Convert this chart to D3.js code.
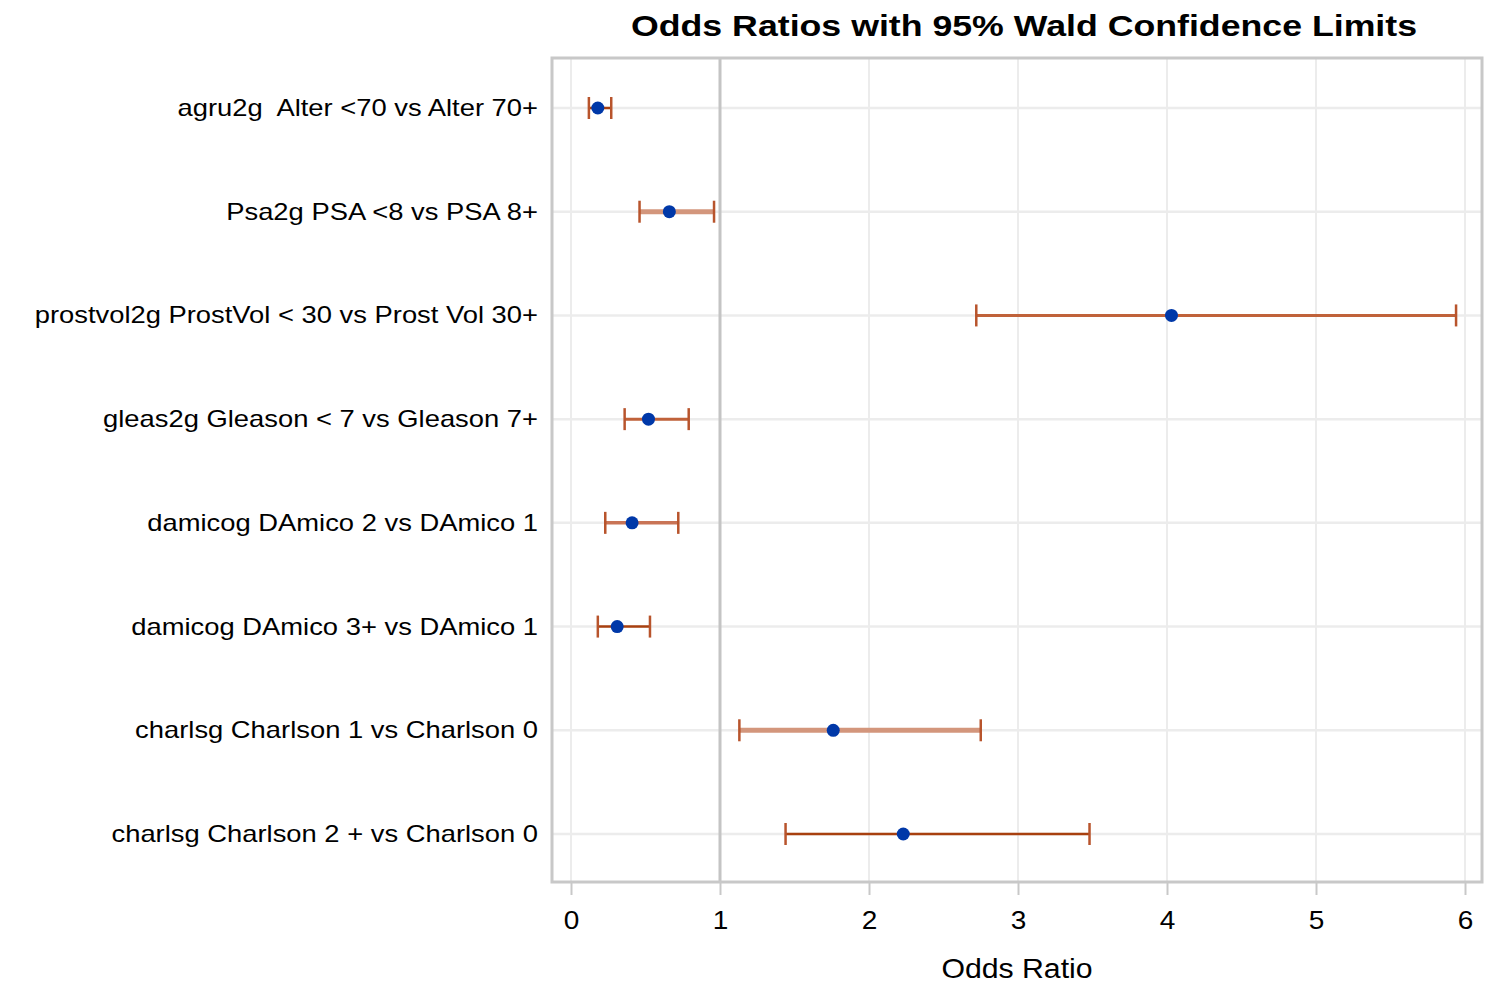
<!DOCTYPE html>
<html>
<head>
<meta charset="utf-8">
<script src="https://d3js.org/d3.v7.min.js"></script>
<style>
  body { margin: 0; background: #fff; }
  text { font-family: "Liberation Sans", Arial, sans-serif; }
</style>
</head>
<body>
<div id="chart"></div>
<script>
// effects, top to bottom
var effects = [
    "agru2g  Alter <70 vs Alter 70+",
    "Psa2g PSA <8 vs PSA 8+",
    "prostvol2g ProstVol < 30 vs Prost Vol 30+",
    "gleas2g Gleason < 7 vs Gleason 7+",
    "damicog DAmico 2 vs DAmico 1",
    "damicog DAmico 3+ vs DAmico 1",
    "charlsg Charlson 1 vs Charlson 0",
    "charlsg Charlson 2 + vs Charlson 0"
];
var oddsRatio = [0.18, 0.66, 4.03, 0.52, 0.41, 0.31, 1.76, 2.23];
var lowerCL   = [0.12, 0.46, 2.72, 0.36, 0.23, 0.18, 1.13, 1.44];
var upperCL   = [0.27, 0.96, 5.94, 0.79, 0.72, 0.53, 2.75, 3.48];
var xTicks = [0, 1, 2, 3, 4, 5, 6];

var width = 1500, height = 992;
var pLeft = 552, pRight = 1482, pTop = 58, pBottom = 882;

var svg = d3.select("#chart").append("svg")
    .attr("width", width).attr("height", height);

var x = d3.scaleLinear().domain([0, 6]).range([571, 1465]);
var y = d3.scalePoint().domain(effects).range([108, 834]);

// text in the picture is wider than plain Arial, so stretch it a bit
function label(g, tx, ty, size, anchor, str, bold, stretch) {
    var t = g.append("text")
        .attr("transform", "translate(" + tx + "," + ty + ") scale(" + (stretch || 1.19) + ",1)")
        .attr("text-anchor", anchor)
        .attr("font-size", size)
        .attr("fill", "#000")
        .style("white-space", "pre")
        .text(str);
    if (bold) t.attr("font-weight", "bold");
    return t;
}

// grid
svg.append("g").selectAll("line")
    .data(xTicks)
    .join("line")
    .attr("x1", d => x(d)).attr("x2", d => x(d))
    .attr("y1", pTop).attr("y2", pBottom)
    .attr("stroke", "#ececec").attr("stroke-width", 2);

svg.append("g").selectAll("line")
    .data(effects)
    .join("line")
    .attr("x1", pLeft).attr("x2", pRight)
    .attr("y1", d => y(d)).attr("y2", d => y(d))
    .attr("stroke", "#ececec").attr("stroke-width", 2.5);

// reference line at 1
svg.append("line")
    .attr("x1", x(1)).attr("x2", x(1))
    .attr("y1", pTop).attr("y2", pBottom)
    .attr("stroke", "#c4c4c4").attr("stroke-width", 3);

// frame
svg.append("rect")
    .attr("x", pLeft).attr("y", pTop)
    .attr("width", pRight - pLeft).attr("height", pBottom - pTop)
    .attr("fill", "none")
    .attr("stroke", "#c8c8c8").attr("stroke-width", 3);

// x axis ticks + labels
var xAxis = d3.axisBottom(x).tickValues(xTicks).tickSize(12).tickFormat("");
var gx = svg.append("g")
    .attr("transform", "translate(0," + (pBottom + 1) + ")")
    .call(xAxis);
gx.select(".domain").remove();
gx.selectAll(".tick line").attr("stroke", "#c8c8c8").attr("stroke-width", 2);
gx.selectAll(".tick").each(function (d) {
    label(d3.select(this), 0, 46, 25, "middle", String(d), false, 1.12);
});

label(svg, (pLeft + pRight) / 2, 978, 27.5, "middle", "Odds Ratio", false, 1.1);

// y labels
var gy = svg.append("g");
effects.forEach(function (e) {
    label(gy, 538, y(e) + 8, 23, "end", e);
});

// title
label(svg, 1024, 36, 30, "middle", "Odds Ratios with 95% Wald Confidence Limits", true);

// error bars
var barStyle = [
    {w: 2.5, c: "#a8400f"},
    {w: 5, c: "#d3967c"},
    {w: 3, c: "#c0623a"},
    {w: 3, c: "#c0623a"},
    {w: 3.5, c: "#c97456"},
    {w: 2.5, c: "#a8400f"},
    {w: 5, c: "#d3967c"},
    {w: 2.5, c: "#a8400f"}
];

var bars = svg.append("g").selectAll("g")
    .data(effects)
    .join("g");

bars.append("line")
    .attr("x1", (d, i) => x(lowerCL[i]))
    .attr("x2", (d, i) => x(upperCL[i]))
    .attr("y1", d => y(d)).attr("y2", d => y(d))
    .attr("stroke", (d, i) => barStyle[i].c)
    .attr("stroke-width", (d, i) => barStyle[i].w);

bars.selectAll("line.cap")
    .data((d, i) => [{v: lowerCL[i], y: y(d)}, {v: upperCL[i], y: y(d)}])
    .join("line")
    .attr("class", "cap")
    .attr("x1", d => x(d.v)).attr("x2", d => x(d.v))
    .attr("y1", d => d.y - 11).attr("y2", d => d.y + 11)
    .attr("stroke", "#b8542c")
    .attr("stroke-width", 2.5);

bars.append("circle")
    .attr("cx", (d, i) => x(oddsRatio[i]))
    .attr("cy", d => y(d))
    .attr("r", 6.5)
    .attr("fill", "#0038a8");
</script>
</body>
</html>
